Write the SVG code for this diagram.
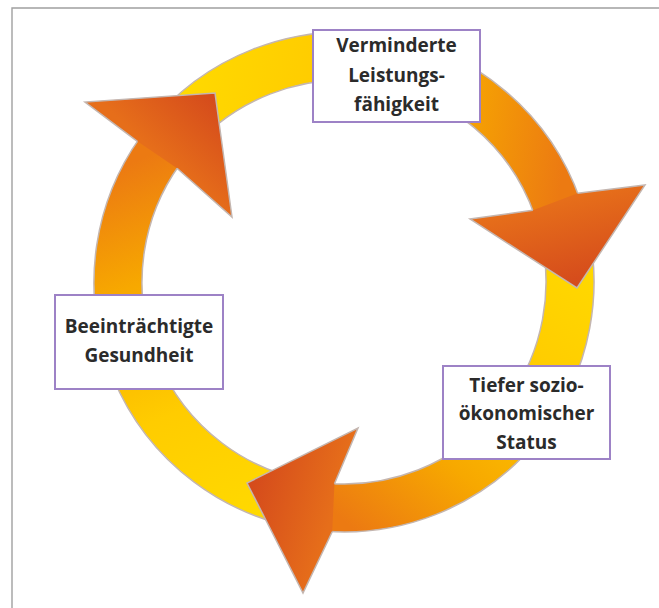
<svg xmlns="http://www.w3.org/2000/svg" xmlns:xlink="http://www.w3.org/1999/xlink" width="659" height="608" viewBox="0 0 659 608">
  <style>
    .frame { fill: none; stroke: #a0a0a0; stroke-width: 1.4; }
    .shaft { stroke: #c4b6b0; stroke-width: 1.5; stroke-linejoin: round; }
    .head { stroke: #c4b6b0; stroke-width: 1.5; stroke-linejoin: miter; }
    .box { fill: #ffffff; stroke: #9d82c6; stroke-width: 2; }
    .lbl { font-family: "Open Sans", "Noto Sans", "Liberation Sans", sans-serif; font-weight: 700; font-size: 19px; fill: #2b2b2b; text-anchor: middle; }
  </style>
  <defs>
    <linearGradient id="bandStops">
      <stop offset="0" stop-color="#FFDA00"/>
      <stop offset="0.35" stop-color="#FFCC00"/>
      <stop offset="0.7" stop-color="#F7A800"/>
      <stop offset="1" stop-color="#EC7A12"/>
    </linearGradient>
    <linearGradient id="headStops">
      <stop offset="0" stop-color="#E66E1A"/>
      <stop offset="1" stop-color="#D4491C"/>
    </linearGradient>
    <linearGradient id="g1" xlink:href="#bandStops" gradientUnits="userSpaceOnUse" x1="304.75" y1="504.57" x2="160.01" y2="150.76"/>
    <linearGradient id="g2" xlink:href="#bandStops" gradientUnits="userSpaceOnUse" x1="165.91" y1="142.86" x2="557.3" y2="207.3"/>
    <linearGradient id="g3" xlink:href="#bandStops" gradientUnits="userSpaceOnUse" x1="562.3" y1="223.5" x2="327.45" y2="507.39"/>
    <linearGradient id="h1" xlink:href="#headStops" gradientUnits="userSpaceOnUse" x1="157.2" y1="154.8" x2="215" y2="93"/>
    <linearGradient id="h2" xlink:href="#headStops" gradientUnits="userSpaceOnUse" x1="555.3" y1="201.7" x2="577" y2="288"/>
    <linearGradient id="h3" xlink:href="#headStops" gradientUnits="userSpaceOnUse" x1="333.4" y1="507.8" x2="247" y2="483"/>
  </defs>

  <rect width="659" height="608" fill="#ffffff"/>
  <path class="frame" d="M 12 608 L 12 8 L 659 8"/>

  <g id="connectors">
    <path class="shaft" fill="url(#g1)" d="M 300.59 528.20 A 250 250 0 0 1 140.47 136.82 L 179.55 164.70 A 202 202 0 0 0 308.92 480.93 Z"/>
    <path class="shaft" fill="url(#g2)" d="M 147.00 128.08 A 250 250 0 0 1 579.95 199.37 L 534.65 215.24 A 202 202 0 0 0 184.82 157.64 Z"/>
    <path class="shaft" fill="url(#g3)" d="M 585.48 217.30 A 250 250 0 0 1 325.69 531.33 L 329.21 483.46 A 202 202 0 0 0 539.12 229.72 Z"/>
    <path class="head" fill="url(#h1)" d="M 137.35 141.30 L 85 102 L 215 93 L 232 217 L 177.03 168.31"/>
    <path class="head" fill="url(#h2)" d="M 577.71 193.22 L 645 185 L 577 288 L 470 219 L 532.84 210.27"/>
    <path class="head" fill="url(#h3)" d="M 332.22 531.72 L 303 593 L 247 483 L 358 428 L 334.48 483.78"/>
  </g>

  <g id="node-leistung">
    <rect class="box" x="313" y="30" width="167" height="92"/>
    <text class="lbl" x="396.5" y="52">Verminderte</text>
    <text class="lbl" x="396.5" y="82">Leistungs-</text>
    <text class="lbl" x="396.5" y="111">fähigkeit</text>
  </g>

  <g id="node-gesundheit">
    <rect class="box" x="55" y="295" width="168" height="94"/>
    <text class="lbl" x="139" y="333">Beeinträchtigte</text>
    <text class="lbl" x="139" y="362">Gesundheit</text>
  </g>

  <g id="node-status">
    <rect class="box" x="443" y="366" width="167" height="93"/>
    <text class="lbl" x="526.5" y="392">Tiefer sozio-</text>
    <text class="lbl" x="526.5" y="420">ökonomischer</text>
    <text class="lbl" x="526.5" y="448.5">Status</text>
  </g>
</svg>
